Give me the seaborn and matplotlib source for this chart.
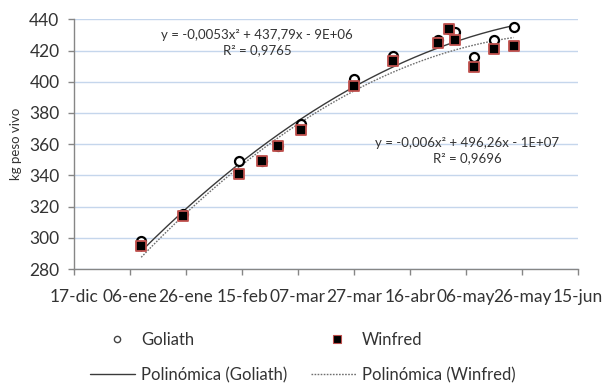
import numpy as np
import pandas as pd
import matplotlib
matplotlib.use("Agg")
import matplotlib.pyplot as plt
import matplotlib.dates as mdates
from matplotlib.lines import Line2D
import seaborn as sns

# Pesajes (kg peso vivo) de los dos lotes
fechas = ["2013-01-10", "2013-01-25", "2013-02-14", "2013-02-22", "2013-02-28",
          "2013-03-08", "2013-03-27", "2013-04-10", "2013-04-26", "2013-04-30",
          "2013-05-02", "2013-05-09", "2013-05-16", "2013-05-23"]
goliath = [298, 315, 349, 349, 359, 373, 402, 416.5, 427, 434, 432, 416, 427, 435]
winfred = [295, 314, 341, 349, 359, 369, 397, 413, 425, 434, 427, 409.5, 421, 423]

# Ejes
inicio_x = "2012-12-17"
paso_dias = 20
etiquetas_x = ["17-dic", "06-ene", "26-ene", "15-feb", "07-mar", "27-mar",
               "16-abr", "06-may", "26-may", "15-jun"]
ticks_y = [280, 300, 320, 340, 360, 380, 400, 420, 440]

eq_goliath = "y = -0,0053x\u00b2 + 437,79x - 9E+06\nR\u00b2 = 0,9765"
eq_winfred = "y = -0,006x\u00b2 + 496,26x - 1E+07\nR\u00b2 = 0,9696"

sns.set_theme(style="white")
plt.rcParams["font.family"] = ["Lato", "DejaVu Sans"]
txt = "#333333"
gris = "#868686"

df = pd.DataFrame({"fecha": pd.to_datetime(fechas), "Goliath": goliath, "Winfred": winfred})
df["num"] = mdates.date2num(df["fecha"])

fig = plt.figure(figsize=(6.04, 3.89), dpi=100)
ax = fig.add_axes([74 / 604, 1 - 269 / 389, (578 - 74) / 604, (269 - 19.3) / 389])

# Tendencias polinómicas de grado 2
xs = np.linspace(df["num"].min(), df["num"].max(), 200)
fit_g = np.polyval(np.polyfit(df["num"], df["Goliath"], 2), xs)
fit_w = np.polyval(np.polyfit(df["num"], df["Winfred"], 2), xs)
sns.lineplot(x=xs, y=fit_g, ax=ax, color="#3a3a3a", lw=1.0, zorder=2)
sns.lineplot(x=xs, y=fit_w, ax=ax, color="#6f6f6f", lw=1.0, ls=(0, (1.2, 1.0)), zorder=2)

sns.scatterplot(data=df, x="num", y="Goliath", ax=ax, marker="o", s=42,
                facecolor="white", edgecolor="black", linewidth=1.6, zorder=3)
sns.scatterplot(data=df, x="num", y="Winfred", ax=ax, marker="s", s=60,
                color="black", edgecolor="#c0504d", linewidth=1.3, zorder=4)

x0 = mdates.date2num(pd.Timestamp(inicio_x))
ticks_x = [x0 + i * paso_dias for i in range(len(etiquetas_x))]
ax.set_xlim(ticks_x[0], ticks_x[-1])
ax.set_xticks(ticks_x)
ax.set_xticklabels(etiquetas_x)
ax.set_ylim(ticks_y[0], ticks_y[-1])
ax.set_yticks(ticks_y)

ax.grid(axis="y", color="#c5d6ec", lw=1.0)
ax.grid(axis="x", visible=False)
for s in ["top", "right"]:
    ax.spines[s].set_visible(False)
for s in ["left", "bottom"]:
    ax.spines[s].set_color(gris)
    ax.spines[s].set_linewidth(1.0)
ax.tick_params(axis="both", which="both", direction="out", length=4.5, width=1,
               color=gris, labelcolor=txt, labelsize=12.5,
               bottom=True, left=True)
ax.tick_params(axis="x", pad=10)
ax.tick_params(axis="y", pad=6)
ax.set_xlabel("")
ax.set_ylabel("kg peso vivo", fontsize=9.5, color=txt, labelpad=5)

ax.text(ax.get_xlim()[0] + (257 - 74) / 2.8, 440 - (42.5 - 19.3) / 1.56, eq_goliath,
        ha="center", va="center", fontsize=9.5, color=txt, linespacing=1.35)
ax.text(ax.get_xlim()[0] + (467 - 74) / 2.8, 440 - (150.5 - 19.3) / 1.56, eq_winfred,
        ha="center", va="center", fontsize=9.5, color=txt, linespacing=1.35)

# Leyenda inferior
h_puntos = [
    Line2D([], [], ls="", marker="o", ms=4.5, mfc="white", mec="#444444", mew=1.0),
    Line2D([], [], ls="", marker="s", ms=6, mfc="black", mec="#c0504d", mew=0.8),
]
h_lineas = [
    Line2D([], [], color="#3a3a3a", lw=1.0),
    Line2D([], [], color="#6f6f6f", lw=1.0, ls=(0, (1.2, 1.0))),
]
leg1 = fig.legend(h_puntos, ["Goliath", "Winfred"], ncol=2, frameon=False,
                  loc="center left", bbox_to_anchor=(108.5 / 604, 1 - 340 / 389),
                  fontsize=12, handlelength=1.0, handletextpad=0.95,
                  columnspacing=8.1, borderpad=0, borderaxespad=0, labelcolor=txt)
leg2 = fig.legend(h_lineas, ["Polinómica (Goliath)", "Polinómica (Winfred)"], ncol=2,
                  frameon=False, loc="center left", bbox_to_anchor=(90 / 604, 1 - 375 / 389),
                  fontsize=12, handlelength=2.7, handletextpad=0.38,
                  columnspacing=1.4, borderpad=0, borderaxespad=0, labelcolor=txt)

fig.savefig("out.png", dpi=100)
